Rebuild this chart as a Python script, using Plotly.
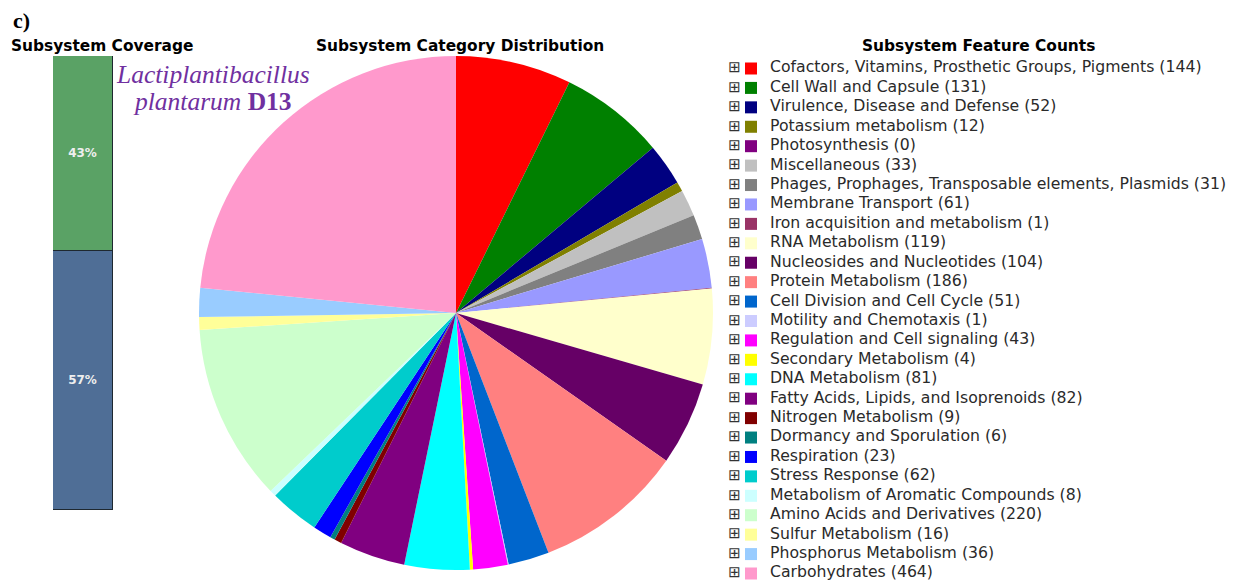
import plotly.graph_objects as go

# ---------------- data ----------------
categories = [
    "Cofactors, Vitamins, Prosthetic Groups, Pigments",
    "Cell Wall and Capsule",
    "Virulence, Disease and Defense",
    "Potassium metabolism",
    "Photosynthesis",
    "Miscellaneous",
    "Phages, Prophages, Transposable elements, Plasmids",
    "Membrane Transport",
    "Iron acquisition and metabolism",
    "RNA Metabolism",
    "Nucleosides and Nucleotides",
    "Protein Metabolism",
    "Cell Division and Cell Cycle",
    "Motility and Chemotaxis",
    "Regulation and Cell signaling",
    "Secondary Metabolism",
    "DNA Metabolism",
    "Fatty Acids, Lipids, and Isoprenoids",
    "Nitrogen Metabolism",
    "Dormancy and Sporulation",
    "Respiration",
    "Stress Response",
    "Metabolism of Aromatic Compounds",
    "Amino Acids and Derivatives",
    "Sulfur Metabolism",
    "Phosphorus Metabolism",
    "Carbohydrates",
]
counts = [144, 131, 52, 12, 0, 33, 31, 61, 1, 119, 104, 186, 51, 1, 43, 4,
          81, 82, 9, 6, 23, 62, 8, 220, 16, 36, 464]
colors = ["#FF0000", "#008000", "#000080", "#808000", "#800080", "#C0C0C0",
          "#808080", "#9999FF", "#993366", "#FFFFCC", "#660066", "#FF8080",
          "#0066CC", "#CCCCFF", "#FF00FF", "#FFFF00", "#00FFFF", "#800080",
          "#800000", "#008080", "#0000FF", "#00CCCC", "#CCFFFF", "#CCFFCC",
          "#FFFF99", "#99CCFF", "#FF99CC"]

coverage_names = ["Not in subsystem", "In subsystem"]   # bottom, top
coverage_pct = [57, 43]
coverage_colors = ["#4F6E96", "#5AA265"]

# page has an 8px body margin; lay the figure out in window pixel coords
OFF = 8
W, H = 1238 - OFF, 581 - OFF


def px(x):
    return (x - OFF) / W


def py(y):
    return 1 - (y - OFF) / H


fig = go.Figure()

# ---------------- coverage stacked bar ----------------
for name, val, col in zip(coverage_names, coverage_pct, coverage_colors):
    fig.add_trace(go.Bar(
        x=[0], y=[val], name=name, width=1,
        marker=dict(color=col, line=dict(color="#1E2830", width=1)),
        text=[f"<b>{val}%</b>"], textposition="inside",
        insidetextanchor="middle",
        textfont=dict(family="DejaVu Sans", size=12, color="#EEEEEE"),
        xaxis="x", yaxis="y", showlegend=False, hoverinfo="skip",
    ))

# ---------------- pie ----------------
fig.add_trace(go.Pie(
    labels=categories, values=counts, sort=False, direction="clockwise",
    rotation=0, textinfo="none", showlegend=False,
    marker=dict(colors=colors, line=dict(width=0)),
    domain=dict(x=[px(199), px(713)], y=[py(570), py(56)]),
))

# ---------------- custom legend ----------------
rows = list(range(len(categories)))
n = len(rows)
fig.add_trace(go.Scatter(
    x=[734.5] * n, y=rows, mode="text", text=["⊞"] * n,
    textposition="middle center",
    textfont=dict(family="DejaVu Sans", size=15, color="#333333"),
    xaxis="x2", yaxis="y2", showlegend=False, hoverinfo="skip",
))
fig.add_trace(go.Scatter(
    x=[751] * n, y=rows, mode="markers",
    marker=dict(symbol="square", size=12, color=colors, line=dict(width=0)),
    xaxis="x2", yaxis="y2", showlegend=False, hoverinfo="skip",
))
fig.add_trace(go.Scatter(
    x=[770] * n, y=rows, mode="text",
    text=[f"{c} ({v})" for c, v in zip(categories, counts)],
    textposition="middle right",
    textfont=dict(family="DejaVu Sans", size=15.7, color="#2A2A2A"),
    xaxis="x2", yaxis="y2", showlegend=False, hoverinfo="skip",
))

row0, rowN = 68.5, 573.5
step = (rowN - row0) / (n - 1)
top_val = -(row0 - OFF) / step
bot_val = top_val + H / step

TITLE_FONT = dict(family="DejaVu Sans", size=15.4, color="black")

fig.update_layout(
    width=W, height=H,
    margin=dict(l=0, r=0, t=0, b=0),
    paper_bgcolor="white", plot_bgcolor="rgba(0,0,0,0)",
    barmode="stack", bargap=0,
    xaxis=dict(domain=[px(53), px(113)], range=[-0.5, 0.5], visible=False,
               fixedrange=True),
    yaxis=dict(domain=[py(510), py(56)], range=[0, 100], visible=False,
               fixedrange=True),
    xaxis2=dict(domain=[0, 1], range=[OFF, W + OFF], visible=False,
                anchor="y2"),
    yaxis2=dict(domain=[0, 1], range=[bot_val, top_val], visible=False,
                anchor="x2"),
    annotations=[
        dict(text="<b>c)</b>", x=px(11), y=py(20), xref="paper", yref="paper",
             xanchor="left", yanchor="middle", showarrow=False,
             font=dict(family="Liberation Serif", size=22, color="black")),
        dict(text="<b>Subsystem Coverage</b>", x=px(9), y=py(46),
             xref="paper", yref="paper", xanchor="left", yanchor="middle",
             showarrow=False, font=TITLE_FONT),
        dict(text="<b>Subsystem Category Distribution</b>", x=px(460),
             y=py(46), xref="paper", yref="paper", xanchor="center",
             yanchor="middle", showarrow=False, font=TITLE_FONT),
        dict(text="<b>Subsystem Feature Counts</b>", x=px(978), y=py(46),
             xref="paper", yref="paper", xanchor="center", yanchor="middle",
             showarrow=False, font=TITLE_FONT),
        dict(text="<i>Lactiplantibacillus</i>", x=px(114), y=py(74),
             xref="paper", yref="paper", xanchor="left", yanchor="middle",
             showarrow=False,
             font=dict(family="Liberation Serif", size=25.5, color="#7030A0")),
        dict(text="<i>plantarum</i> <b>D13</b>", x=px(131), y=py(101),
             xref="paper", yref="paper", xanchor="left", yanchor="middle",
             showarrow=False,
             font=dict(family="Liberation Serif", size=25.5, color="#7030A0")),
    ],
)

fig.write_html("out.html")
